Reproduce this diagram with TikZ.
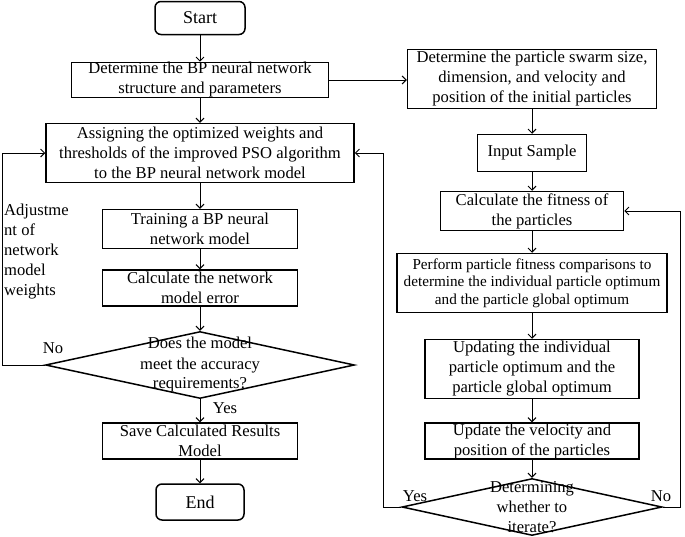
\documentclass[tikz,border=0pt]{standalone}
\usepackage{fontspec}
\setmainfont{Liberation Serif}
\usetikzlibrary{shapes.geometric,positioning,arrows.meta}

\begin{document}
\begin{tikzpicture}[x=1pt,y=-1pt,on grid,
		>={Straight Barb[length=4pt,width=8pt]},
		every node/.style={font=\fontsize{16.6}{20}\selectfont},
		box/.style={draw,line width=1.5pt,align=center,inner sep=0pt},
		term/.style={box,rounded corners=6pt,font=\fontsize{18}{22}\selectfont},
		decision/.style={draw,diamond,line width=1.5pt,inner sep=0pt},
		txt/.style={align=center,inner sep=0pt},
		flow/.style={->,line width=1pt}]
		\useasboundingbox (0,0) rectangle (685,536);
		% BP network column
		\node[term,minimum width=90pt,minimum height=33pt] (start) at (200,18) {Start};
		\node[box,minimum width=257pt,minimum height=35pt] (bp) [below=62pt of start] {Determine the BP neural network\\structure and parameters};
		\node[box,minimum width=308pt,minimum height=59pt] (assign) [below=73pt of bp] {Assigning the optimized weights and\\thresholds of the improved PSO algorithm\\to the BP neural network model};
		\node[box,minimum width=195pt,minimum height=39pt] (train) [below=76pt of assign] {Training a BP neural\\network model};
		\node[box,minimum width=195pt,minimum height=36pt] (err) [below=59pt of train] {Calculate the network\\model error};
		\node[decision,minimum width=309pt,minimum height=67pt] (acc) [below=77pt of err] {};
		\node[txt] (acctxt) at (acc) {Does the model\\meet the accuracy\\requirements?};
		\node[box,minimum width=195pt,minimum height=36pt] (save) [below=76pt of acc] {Save Calculated Results\\Model};
		\node[term,minimum width=88pt,minimum height=36pt] (end) [below=61pt of save] {End};
		% PSO column
		\node[box,minimum width=249pt,minimum height=59pt] (swarm) at (532,79) {Determine the particle swarm size,\\dimension, and velocity and\\position of the initial particles};
		\node[box,minimum width=109pt,minimum height=37pt] (input) [below=74pt of swarm] {Input Sample};
		\node[box,minimum width=183pt,minimum height=39pt] (fit) [below=58pt of input] {Calculate the fitness of\\the particles};
		\node[box,minimum width=270pt,minimum height=59pt,font=\fontsize{15.2}{17.5}\selectfont] (cmp) [below=72pt of fit] {Perform particle fitness comparisons to\\determine the individual particle optimum\\and the particle global optimum};
		\node[box,minimum width=214pt,minimum height=59pt] (upd) [below=86pt of cmp] {Updating the individual\\particle optimum and the\\particle global optimum};
		\node[box,minimum width=214pt,minimum height=36pt] (vel) [below=72pt of upd] {Update the velocity and\\position of the particles};
		\node[decision,minimum width=260pt,minimum height=57pt] (iter) [below=66pt of vel] {};
		\node[txt] (itertxt) at (iter) {Determining\\whether to\\iterate?};
		% side texts
		\node[txt,align=left,anchor=west] (adj) at (4,252) {Adjustme\\nt of\\network\\model\\weights};
		\node (no1) at (53,348) {No};
		\node (yes1) at (225,408) {Yes};
		\node (yes2) at (415,496) {Yes};
		\node (no2) at (661,496) {No};
		\coordinate (lft) at ([xshift=-42pt]acc.west);
		\coordinate (rgl) at ([xshift=-18pt]iter.west);
		\coordinate (rgr) at ([xshift=18pt]iter.east);
		\path[flow]
		(start) edge (bp)
		(bp) edge (assign)
		(assign) edge (train)
		(train) edge (err)
		(err) edge (acc)
		(acc) edge (save)
		(save) edge (end)
		(swarm) edge (input)
		(input) edge (fit)
		(fit) edge (cmp)
		(cmp) edge (upd)
		(upd) edge (vel)
		(vel) edge (iter);
		\draw[flow] (bp.east) -- (bp.east -| swarm.west);
		\draw[flow] (acc.west) -- (lft) |- (assign.west);
		\draw[flow] (iter.west) -- (rgl) |- (assign.east);
		\draw[flow] (iter.east) -- (rgr) |- (fit.east);
\end{tikzpicture}
\end{document}
